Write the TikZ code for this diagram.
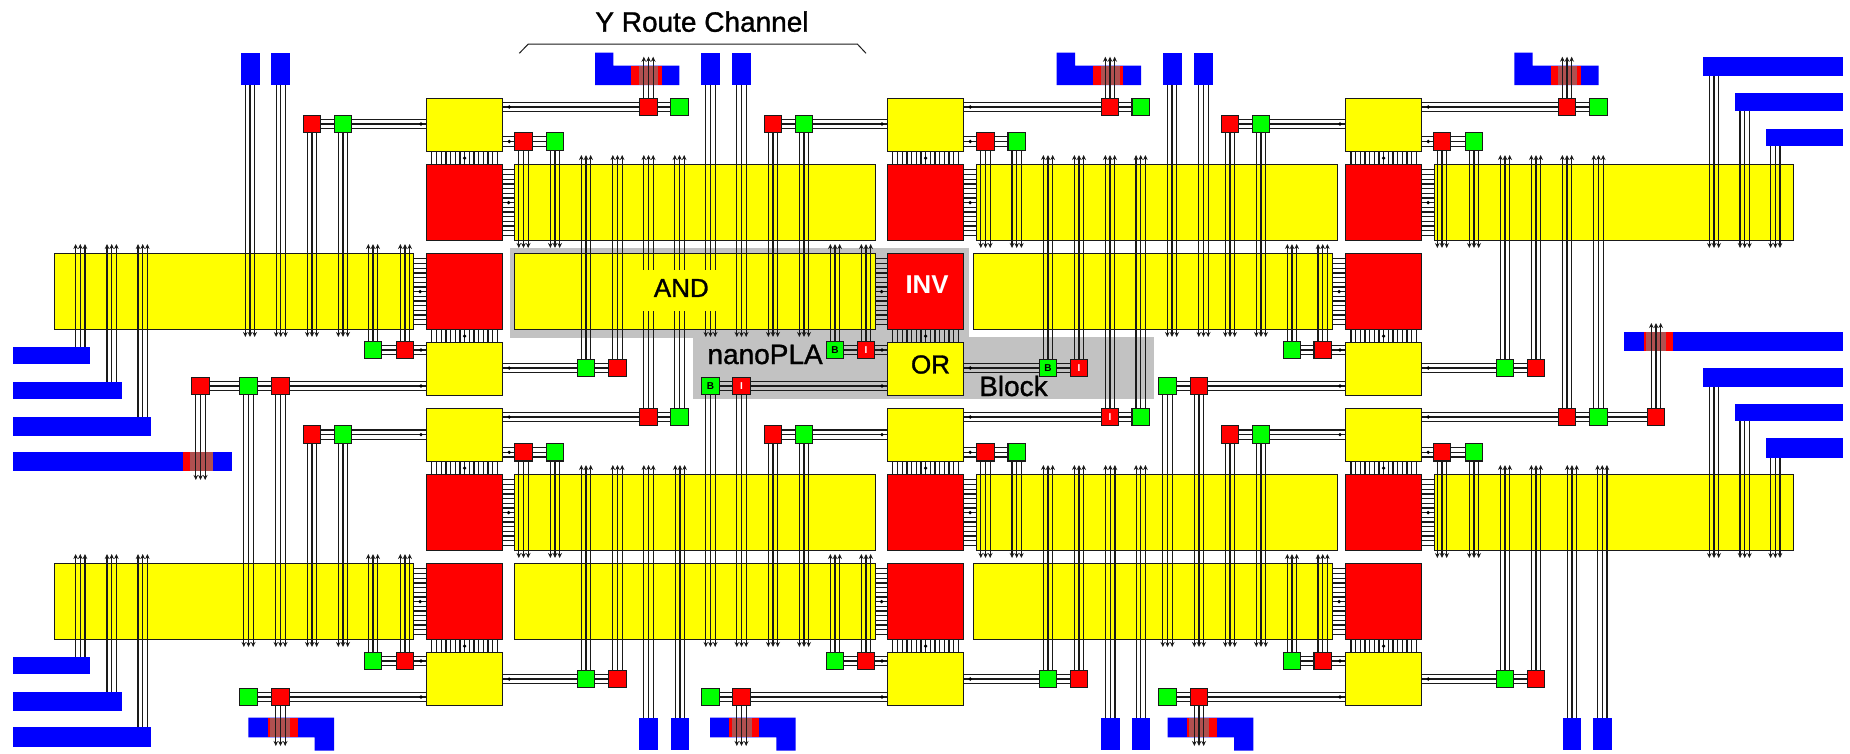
\documentclass[tikz,border=0pt]{standalone}
\usepackage{fontspec}
\setmainfont{Liberation Sans}
\newfontfamily\heavyfont[FakeBold=1.2]{Liberation Sans}
\usetikzlibrary{arrows.meta,calc}
\definecolor{chipred}{HTML}{FF0000}
\definecolor{chipyel}{HTML}{FFFF00}
\definecolor{chipgrn}{HTML}{00FF00}
\definecolor{chipblu}{HTML}{0000FF}
\definecolor{panel}{HTML}{C2C2C2}
\definecolor{gate}{HTML}{B05050}
\definecolor{ink}{HTML}{1A1A1A}
\pgfdeclarelayer{blocks}
\pgfdeclarelayer{wires}
\pgfsetlayers{blocks,wires,main}
\tikzset{
  yblock/.style={draw=ink, line width=1.2pt, fill=chipyel, inner sep=0pt},
  rblock/.style={draw=ink, line width=1.2pt, fill=chipred, inner sep=0pt},
  bblock/.style={fill=chipblu, inner sep=0pt, outer sep=0pt},
  pnl/.style={fill=panel, inner sep=0pt, outer sep=0pt},
  gbar/.style={fill=chipred, inner sep=0pt, outer sep=0pt},
  gshade/.style={fill=gate, inner sep=0pt, outer sep=0pt},
  rsw/.style={draw=ink, line width=1.2pt, fill=chipred, inner sep=0pt, minimum size=17.5pt},
  gsw/.style={draw=ink, line width=1.2pt, fill=chipgrn, inner sep=0pt, minimum size=17.5pt},
  wire/.style={line width=1.15pt, draw=ink},
  tag/.style={inner sep=0pt, font=\fontsize{28}{30}\heavyfont},
  blocktag/.style={inner sep=0pt, font=\fontsize{26}{30}\heavyfont},
  invtag/.style={inner sep=0pt, font=\fontsize{25.8}{30}\selectfont\bfseries},
  swtag/.style={inner sep=0pt, font=\fontsize{10}{10}\selectfont\bfseries},
}
\newcommand{\rectnode}[6]{\node[#1,anchor=north west,minimum width=#5pt,minimum height=#6pt] (#2) at (#3,#4){};}
\newcommand{\vwire}[2]{\foreach \wo in {-4.67,0,4.67}\draw[wire,-{Stealth[length=5pt,width=4.6pt]}] ($(#1)+(\wo,0)$)--($(#2)+(\wo,0)$);}
\newcommand{\hwire}[2]{\foreach \wo in {-4.67,0,4.67}\draw[wire] ($(#1 |- #2)+(0,\wo)$)--($(#2)+(0,\wo)$);}
\newcommand{\combh}[2]{\foreach \wk in {-7,...,7}\draw[wire] ($(#1.east)+(0,{\wk*4.67})$)--($(#2.west |- #1.east)+(0,{\wk*4.67})$);
  \fill[black] ($(#1.east)!0.5!(#2.west |- #1.east)$) circle (1.8);}
\newcommand{\combv}[2]{\foreach \wk in {-7,...,7}\draw[wire] ($(#1.south)+({\wk*4.67},0)$)--($(#2.north -| #1.south)+({\wk*4.67},0)$);
  \fill[black] ($(#1.south)!0.5!(#2.north -| #1.south)$) circle (1.8);}

\begin{document}
\begin{tikzpicture}[x=1pt,y=-1pt]
  \useasboundingbox (0,0) rectangle (1850,753);
  \begin{pgfonlayer}{blocks}
    \rectnode{pnl}{pnla}{510}{248}{459}{90}
    \rectnode{pnl}{pnlb}{693}{337}{461}{62}
    \foreach \cl/\x in {1/426,2/887,3/1345}{
      \foreach \rw/\yy in {a/98,b/342,c/408,d/652}{\rectnode{yblock}{sy\cl\rw}{\x}{\yy}{76}{53}}
      \foreach \rw/\yy in {a/164,b/253,c/474,d/563}{\rectnode{rblock}{inv\cl\rw}{\x}{\yy}{76}{76}}
    }
    \foreach \cl/\x/\w in {1/514/361,2/976/361,3/1434/359}{
      \foreach \rw/\yy in {a/164,c/474}{\rectnode{yblock}{lng\cl\rw}{\x}{\yy}{\w}{76}}}
    \foreach \cl/\x/\w in {1/54/359,2/514/361,3/973/359}{
      \foreach \rw/\yy in {b/253,d/563}{\rectnode{yblock}{lng\cl\rw}{\x}{\yy}{\w}{76}}}
    % pads
    \foreach \nm/\x in {bt1/240.5,bt2/271.3,bt3/701,bt4/732,bt5/1162.5,bt6/1194}{\rectnode{bblock}{\nm}{\x}{52.5}{19}{32.5}}
    \foreach \nm/\x in {bb1/639.3,bb2/670.7,bb3/1101,bb4/1131.5,bb5/1562.7,bb6/1593}{\rectnode{bblock}{\nm}{\x}{718}{18.5}{32}}
    \foreach \nm/\x/\y/\w/\h in {lb1/13/346.7/77/17.5,lb2/13/381.7/108.5/17.5,lb3/13/416.7/138/19.5,lb4/13/656.7/77/17.5,lb5/13/691.7/108.5/19.3,lb6/13/727/138/19.7,
      rb1/1703.3/56.7/139.7/19.3,rb2/1734.7/93.3/108.3/17.7,rb3/1766/128.7/77/17.6,rb4/1703.3/368.3/139.7/18.4,rb5/1734.7/403.7/108.3/17.5,rb6/1766/438.3/77/19.7,
      sb1/13/451.7/219.3/19.3,sb2/1624/331.7/219/19.3}{\rectnode{bblock}{\nm}{\x}{\y}{\w}{\h}}
    \rectnode{gbar}{gb1}{183}{451.7}{30}{19.3}
    \rectnode{gshade}{gs1}{190.3}{451.7}{22.7}{19.3}
    \rectnode{gbar}{gb2}{1643.7}{331.7}{29.6}{19.3}
    \rectnode{gshade}{gs2}{1645.7}{331.7}{20}{19.3}
    % L shaped stubs
    \foreach \cl/\x in {1/595,2/1056.7,3/1514.3}{
      \fill[chipblu] (\x,52.5)--++(18.3,0)--++(0,13.2)--++(66,0)--++(0,19.3)--++(-84.3,0)--cycle;
      \fill[chipred] ($(\x,65.7)+(36.3,0)$) rectangle ++(30.4,19.3);
      \fill[gate] ($(\x,65.7)+(44,0)$) rectangle ++(19,19.3);
    }
    \foreach \cl/\x in {1/248.3,2/710,3/1167.7}{
      \fill[chipblu] (\x,717.7)--++(85.7,0)--++(0,32.8)--++(-19.3,0)--++(0,-13.2)--++(-66.4,0)--cycle;
      \fill[chipred] ($(\x,717.7)+(19.4,0)$) rectangle ++(30,19.6);
      \fill[gate] ($(\x,717.7)+(21.7,0)$) rectangle ++(20,19.6);
    }
  \end{pgfonlayer}
  % switches, one set per column
  \foreach \cl/\xa/\xb/\xc/\xd/\xe/\xf/\xg/\xh/\xi/\xj/\xk/\xl in {
      1/648.5/679.5/523.5/555/312/343/405/373/280.5/248.5/617.5/586,
      2/1110/1140.7/985.5/1016.7/773/804/866/835/741.5/710.5/1079/1048,
      3/1567/1598.5/1442/1474/1230/1261/1322.7/1292/1199/1167.5/1536/1505}{
    \foreach \g/\yy/\xr/\xq in {t/107/\xa/\xb,u/417/\xa/\xb,m/141.5/\xc/\xd,v/452.3/\xc/\xd,l/124/\xe/\xf,w/434.6/\xe/\xf,
        n/350/\xg/\xh,x/661/\xg/\xh,o/386/\xi/\xj,y/697/\xi/\xj,s/368/\xk/\xl,z/679/\xk/\xl}{
      \node[rsw] (\g\cl r) at (\xr,\yy){};
      \node[gsw] (\g\cl g) at (\xq,\yy){};
    }
  }
  \node[rsw] (o1x) at (200.5,386){};
  \node[rsw] (u3x) at (1656,417){};
  \coordinate (ua) at (0,155);
  \coordinate (db) at (0,248);
  \coordinate (ub) at (0,244);
  \coordinate (dc) at (0,337);
  \coordinate (ud) at (0,465);
  \coordinate (de) at (0,558);
  \coordinate (ue) at (0,554);
  \coordinate (df) at (0,647);
  \coordinate (ug) at (0,56.7);
  \coordinate (dh) at (0,746);
  \coordinate (di) at (0,480);
  \coordinate (uj) at (0,323);
  \begin{pgfonlayer}{wires}
    \foreach \cl in {1,2,3}{
      \foreach \bx/\sd/\g/\np/\fp/\dd in {a/east/t/r/g/6,a/east/m/r/g/6,a/west/l/g/r/-5,b/west/n/r/g/-5,b/west/o/r/g/-5,b/east/s/g/r/6,
          c/east/u/r/g/6,c/east/v/r/g/6,c/west/w/g/r/-5,d/west/x/r/g/-5,d/west/y/r/g/-5,d/east/z/g/r/6}{
        \hwire{sy\cl\bx.\sd}{\g\cl\np}
        \hwire{\g\cl\np}{\g\cl\fp}
        \fill[black] ($(sy\cl\bx.\sd |- \g\cl\np)+(\dd,0)$) circle (1.8);
      }
      \foreach \g/\lv in {m/db,v/de,l/dc,w/df,o/df,n/ub,x/ue,s/ua,z/ud,u/ua}{
        \foreach \k in {r,g}{\vwire{\g\cl\k}{\g\cl\k |- \lv}}
      }
      \vwire{t\cl r}{t\cl r |- ug}
      \vwire{y\cl r}{y\cl r |- dh}
      \combh{inv\cl a}{lng\cl a}
      \combh{inv\cl c}{lng\cl c}
      \combh{lng\cl b}{inv\cl b}
      \combh{lng\cl d}{inv\cl d}
      \combv{sy\cl a}{inv\cl a}
      \combv{inv\cl b}{sy\cl b}
      \combv{sy\cl c}{inv\cl c}
      \combv{inv\cl d}{sy\cl d}
    }
    \hwire{o1g}{o1x}
    \hwire{u3g}{u3x}
    \vwire{o1x}{o1x |- di}
    \vwire{u3x}{u3x |- uj}
    \foreach \nm in {bt1,bt2,bt3,bt4,bt5,bt6}{\vwire{\nm.south}{\nm |- dc}}
    \foreach \nm in {bb1,bb2,bb3,bb4,bb5,bb6}{\vwire{\nm.north}{\nm |- ud}}
    \foreach \nm/\wx/\lv in {lb1/80.3/ub,lb2/111.7/ub,lb3/142.7/ub,lb4/80.3/ue,lb5/111.7/ue,lb6/142.7/ue}{
      \coordinate (\nm w) at (\wx,0);
      \vwire{\nm w |- \nm.north}{\nm w |- \lv}
    }
    \foreach \nm/\wx/\lv in {rb1/1714/db,rb2/1744.7/db,rb3/1775.3/db,rb4/1714/de,rb5/1744.7/de,rb6/1775.3/de}{
      \coordinate (\nm w) at (\wx,0);
      \vwire{\nm w |- \nm.south}{\nm w |- \lv}
    }
  \end{pgfonlayer}
  % labels
  \coordinate (brla) at (519.3,53.3);
  \coordinate (brlb) at (528.3,44);
  \coordinate (brrb) at (857.3,44);
  \coordinate (brra) at (866,53.3);
  \draw[line width=1pt,ink] (brla)--(brlb)--(brrb)--(brra);
  \node[tag,anchor=base] (yroute) at (702,31.7){Y Route Channel};
  \node[blocktag,fill=chipyel,minimum width=84pt,minimum height=41pt,text depth=5pt] (andl) at (681.3,290.5){AND};
  \node[invtag,text=white] (invl) at (927,284.5){INV};
  \node[blocktag] (orl) at (930.5,364.5){OR};
  \node[tag,anchor=base west] (nanol) at (707.3,364){nanoPLA};
  \node[tag,anchor=base west] (blockl) at (979,396){Block};
  \foreach \nm in {n2g,o2g,s2g}{\node[swtag,text=black] (\nm t) at (\nm){B};}
  \foreach \nm in {n2r,o2r,s2r,u2r}{\node[swtag,text=white] (\nm t) at (\nm){I};}
\end{tikzpicture}
\end{document}
